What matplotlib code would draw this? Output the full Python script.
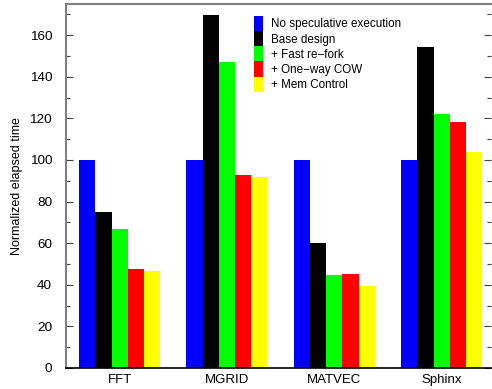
import numpy as np
import matplotlib
matplotlib.use('Agg')
import matplotlib.pyplot as plt
from matplotlib.ticker import MultipleLocator

plt.rcParams['font.family'] = ['Liberation Sans', 'DejaVu Sans']

benchmarks = ['FFT', 'MGRID', 'MATVEC', 'Sphinx']
configs = ['No speculative execution', 'Base design', '+ Fast re\u2212fork',
           '+ One\u2212way COW', '+ Mem Control']
colors = ['#0000ff', '#000000', '#00ff00', '#ff0000', '#ffff00']

no_spec = [100, 100, 100, 100]
base = [75.1, 169.6, 59.9, 154.4]
fast_refork = [66.6, 147.0, 44.7, 122.0]
oneway_cow = [47.6, 92.7, 45.2, 118.5]
mem_control = [46.6, 91.8, 39.4, 104.0]
series = [no_spec, base, fast_refork, oneway_cow, mem_control]

fig = plt.figure(figsize=(4.92, 3.89), dpi=100)
ax = fig.add_axes([66/492, 1-368/389, 425/492, 364/389])

x = np.arange(len(benchmarks))
w = 0.151
for i, (vals, c, lab) in enumerate(zip(series, colors, configs)):
    ax.bar(x + (i - 2) * w, vals, w, color=c, label=lab, linewidth=0)

ax.set_xlim(-0.5, 3.46)
ax.set_ylim(0, 175)
ax.set_xticks(x)
ax.set_xticklabels(benchmarks)
ax.tick_params(axis='x', length=0, pad=4, labelsize=9.5)
ax.yaxis.set_major_locator(MultipleLocator(20))
ax.yaxis.set_minor_locator(MultipleLocator(10))
ax.tick_params(axis='y', which='major', direction='in', length=5, width=0.8,
               right=True, pad=10, labelsize=9.7, color='#404040')
ax.tick_params(axis='y', which='minor', direction='in', length=3, width=0.8,
               right=True, color='#404040')
ax.set_ylabel('Normalized elapsed time', fontsize=9, labelpad=5)

for s in ('left', 'top'):
    ax.spines[s].set_color('#808080')
    ax.spines[s].set_linewidth(1.5)
ax.spines['right'].set_visible(False)
ax.spines['bottom'].set_color('black')
ax.spines['bottom'].set_linewidth(1.2)

# stacked colour keys, no gaps between rows
ax.legend(loc='upper left', bbox_to_anchor=(0.442, 0.967), frameon=False,
          fontsize=8.4, handlelength=0.77, handleheight=1.62, labelspacing=0,
          handletextpad=0.68, borderpad=0, borderaxespad=0)

fig.savefig('out.png', dpi=100)
